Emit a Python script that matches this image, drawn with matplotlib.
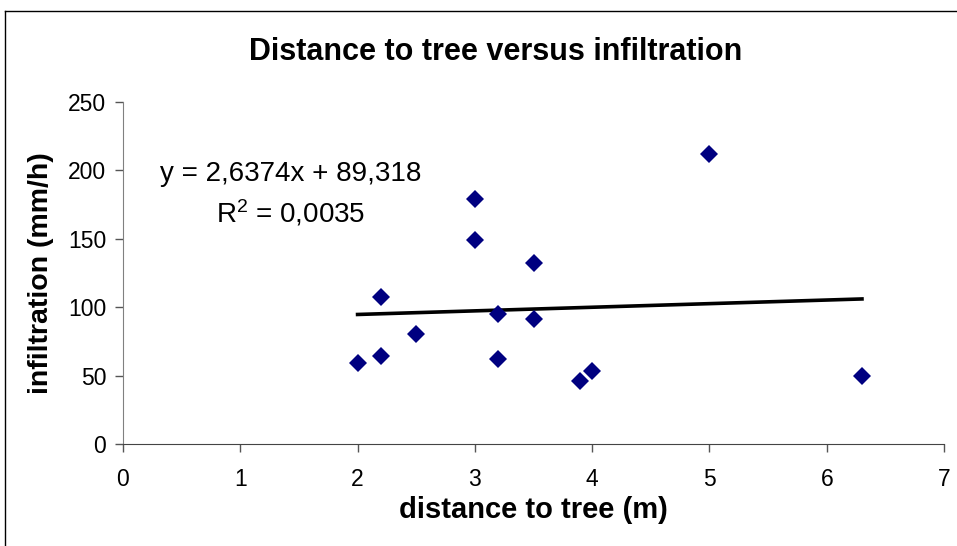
import matplotlib.pyplot as plt
from matplotlib.lines import Line2D

plt.rcParams['font.family'] = ['Liberation Sans', 'DejaVu Sans']

# data
distance = [2.0, 2.2, 2.2, 2.5, 3.0, 3.0, 3.2, 3.2, 3.5, 3.5, 3.9, 4.0, 5.0, 6.3]
infiltration = [59, 107, 64.5, 80.6, 179, 149.3, 95, 62, 132, 91, 46, 53, 212, 50]
slope = 2.6374
intercept = 89.318
r2_text = '0,0035'
x_ticks = [0, 1, 2, 3, 4, 5, 6, 7]
y_ticks = [0, 50, 100, 150, 200, 250]

fig = plt.figure(figsize=(9.57, 5.46), dpi=100)
ax = fig.add_axes([0.1285, 0.1868, 0.858, 0.627])

ax.plot(distance, infiltration, 'D', color='#000080', markersize=9, markeredgewidth=0, zorder=3)

# linear trend line over the data range
x0, x1 = min(distance), max(distance)
ax.plot([x0, x1], [slope * x0 + intercept, slope * x1 + intercept], color='black', lw=2.6, zorder=2)

ax.text(1.43, 192, 'y = 2,6374x + 89,318', ha='center', va='baseline', fontsize=20)
ax.text(1.43, 162, '$\\mathregular{R^2}$ = ' + r2_text, ha='center', va='baseline', fontsize=20)

ax.set_xlim(0, 7)
ax.set_ylim(0, 250)
ax.set_xticks(x_ticks)
ax.set_yticks(y_ticks)
ax.tick_params(labelsize=16.5, direction='out', length=6, width=1, colors='#555555', labelcolor='black')
ax.tick_params(axis='x', pad=11)
ax.tick_params(axis='y', pad=6)
for s in ['top', 'right']:
    ax.spines[s].set_visible(False)
ax.spines['left'].set_color('#808080')
ax.spines['bottom'].set_color('#444444')

ax.set_xlabel('distance to tree (m)', fontsize=21, fontweight='bold', labelpad=4)
ax.set_ylabel('infiltration (mm/h)', fontsize=20.5, fontweight='bold', labelpad=10)
fig.text(0.518, 0.905, 'Distance to tree versus infiltration', ha='center', va='center',
         fontsize=22, fontweight='bold')

# chart area border (only left and top visible)
fig.add_artist(Line2D([0.0055, 0.0055], [0, 0.98], transform=fig.transFigure, color='black', lw=1))
fig.add_artist(Line2D([0.0055, 1], [0.98, 0.98], transform=fig.transFigure, color='black', lw=1))

fig.savefig('out.png', dpi=100)
